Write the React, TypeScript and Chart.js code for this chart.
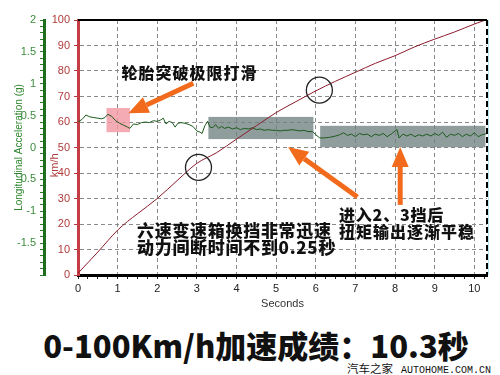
import React, { useEffect, useRef } from "react";
import { Chart, registerables } from "chart.js";

Chart.register(...registerables);

// ---- data ----
const speedTime = [0, 0.5, 1, 1.25, 1.5, 2, 2.5, 3, 3.5, 4, 4.5, 5, 5.5, 6, 6.5, 7, 7.5, 8, 8.5, 9, 9.5, 10, 10.28];
const speedKmh = [0.7, 9, 17.6, 21, 24, 30, 37, 43.8, 48, 53.3, 58.5, 63.7, 68, 72.2, 76, 79.5, 83, 86, 89.5, 92.5, 95.3, 98.4, 100];

const accTime = [
  0.0, 0.1, 0.2, 0.3, 0.4, 0.5, 0.6, 0.68, 0.75, 0.85, 0.95, 1.05, 1.15, 1.25, 1.31, 1.4, 1.5, 1.6, 1.7, 1.8,
  1.9, 2.0, 2.08, 2.15, 2.22, 2.3, 2.38, 2.45, 2.52, 2.6, 2.7, 2.8, 2.9, 3.0, 3.08, 3.13, 3.2, 3.27, 3.33, 3.4,
  3.47, 3.55, 3.62, 3.7, 3.8, 3.9, 4.0, 4.1, 4.2, 4.3, 4.4, 4.5, 4.6, 4.7, 4.8, 4.9, 5.0, 5.1, 5.2, 5.3,
  5.4, 5.5, 5.6, 5.7, 5.8, 5.92, 6.0, 6.1, 6.2, 6.35, 6.5, 6.6, 6.7, 6.8, 6.9, 7.0, 7.1, 7.2, 7.3, 7.4,
  7.5, 7.6, 7.7, 7.8, 7.9, 8.0, 8.05, 8.1, 8.2, 8.3, 8.4, 8.5, 8.6, 8.7, 8.8, 8.9, 9.0, 9.1, 9.2, 9.3,
  9.4, 9.5, 9.6, 9.7, 9.8, 9.9, 10.0, 10.1, 10.2, 10.32,
];
const accG = [
  0.4, 0.44, 0.51, 0.48, 0.47, 0.46, 0.45, 0.47, 0.52, 0.49, 0.42, 0.38, 0.35, 0.32, 0.3, 0.37, 0.36, 0.39, 0.4, 0.39,
  0.42, 0.41, 0.43, 0.46, 0.37, 0.41, 0.39, 0.32, 0.38, 0.39, 0.38, 0.36, 0.33, 0.26, 0.24, 0.22, 0.34, 0.41, 0.32, 0.31,
  0.36, 0.3, 0.33, 0.3, 0.32, 0.29, 0.31, 0.28, 0.3, 0.29, 0.31, 0.28, 0.29, 0.27, 0.28, 0.27, 0.27, 0.26, 0.27, 0.27,
  0.28, 0.27, 0.26, 0.27, 0.25, 0.25, 0.2, 0.15, 0.15, 0.16, 0.18, 0.2, 0.23, 0.19, 0.21, 0.17, 0.22, 0.2, 0.21, 0.17,
  0.21, 0.19, 0.22, 0.17, 0.21, 0.26, 0.28, 0.15, 0.21, 0.18, 0.21, 0.17, 0.2, 0.18, 0.21, 0.18, 0.22, 0.19, 0.24, 0.16,
  0.21, 0.19, 0.22, 0.17, 0.21, 0.18, 0.23, 0.17, 0.2, 0.22,
];

const xTickValues = [0, 1, 2, 3, 4, 5, 6, 7, 8, 9, 10];
const kmhTickValues = [0, 10, 20, 30, 40, 50, 60, 70, 80, 90, 100];
const gTickValues = [-2, -1.5, -1, -0.5, 0, 0.5, 1, 1.5, 2];

// ---- annotation config (data coordinates: seconds / km/h) ----
const highlightBoxes = [
  { t0: 0.72, t1: 1.31, v0: 56, v1: 65.5, color: "rgba(242,150,160,0.8)" },
  { t0: 3.29, t1: 5.94, v0: 53.3, v1: 62, color: "rgba(112,130,128,0.78)" },
  { t0: 6.11, t1: 10.28, v0: 50.1, v1: 58.5, color: "rgba(112,130,128,0.78)" },
];
const circleMarks = [
  { t: 3.04, v: 42.2 },
  { t: 6.09, v: 72.5 },
];
const arrowMarks = [
  { t0: 2.91, v0: 75.2, t1: 1.27, v1: 63.4 },
  { t0: 7.05, v0: 30.6, t1: 5.3, v1: 50.2 },
  { t0: 8.13, v0: 27.5, t1: 8.13, v1: 50.2 },
];

const TICK_FONT = { family: "'Liberation Sans', Arial, sans-serif", size: 11 };

function drawArrow(ctx: CanvasRenderingContext2D, x0: number, y0: number, x1: number, y1: number) {
  const color = "#f26a1b";
  const headLen = 20;
  const headW = 17;
  const ang = Math.atan2(y1 - y0, x1 - x0);
  const bx = x1 - headLen * Math.cos(ang);
  const by = y1 - headLen * Math.sin(ang);
  ctx.save();
  ctx.strokeStyle = color;
  ctx.lineWidth = 5;
  ctx.lineCap = "butt";
  ctx.beginPath();
  ctx.moveTo(x0, y0);
  ctx.lineTo(bx, by);
  ctx.stroke();
  ctx.fillStyle = color;
  ctx.beginPath();
  ctx.moveTo(x1, y1);
  ctx.lineTo(bx + (headW / 2) * Math.sin(ang), by - (headW / 2) * Math.cos(ang));
  ctx.lineTo(bx - (headW / 2) * Math.sin(ang), by + (headW / 2) * Math.cos(ang));
  ctx.closePath();
  ctx.fill();
  ctx.restore();
}

const annotatePlugin = {
  id: "annotate",
  beforeDatasetsDraw(chart: any) {
    const { ctx, scales } = chart;
    const x = scales.x;
    const y = scales.y;
    ctx.save();
    highlightBoxes.forEach((b) => {
      const px0 = x.getPixelForValue(b.t0);
      const px1 = x.getPixelForValue(b.t1);
      const py0 = y.getPixelForValue(b.v1);
      const py1 = y.getPixelForValue(b.v0);
      ctx.fillStyle = b.color;
      ctx.fillRect(px0, py0, px1 - px0, py1 - py0);
    });
    ctx.restore();
  },
  afterDatasetsDraw(chart: any) {
    const { ctx, scales } = chart;
    const x = scales.x;
    const y = scales.y;
    ctx.save();
    ctx.strokeStyle = "#222";
    ctx.lineWidth = 1.3;
    circleMarks.forEach((c) => {
      ctx.beginPath();
      ctx.arc(x.getPixelForValue(c.t), y.getPixelForValue(c.v), 13, 0, Math.PI * 2);
      ctx.stroke();
    });
    ctx.restore();
    arrowMarks.forEach((a) => {
      drawArrow(ctx, x.getPixelForValue(a.t0), y.getPixelForValue(a.v0), x.getPixelForValue(a.t1), y.getPixelForValue(a.v1));
    });
  },
  afterDraw(chart: any) {
    const { ctx, chartArea, scales } = chart;
    ctx.save();
    ctx.strokeStyle = "#000";
    ctx.lineWidth = 2;
    ctx.beginPath();
    ctx.moveTo(chartArea.left, chartArea.top);
    ctx.lineTo(chartArea.right, chartArea.top);
    ctx.stroke();
    ctx.setLineDash([6, 3]);
    ctx.beginPath();
    ctx.moveTo(chartArea.right, chartArea.top);
    ctx.lineTo(chartArea.right, chartArea.bottom);
    ctx.stroke();
    ctx.setLineDash([]);
    ctx.strokeStyle = "rgba(150,220,230,0.7)";
    ctx.lineWidth = 1;
    ctx.beginPath();
    ctx.moveTo(chartArea.right + 1.5, chartArea.top);
    ctx.lineTo(chartArea.right + 1.5, chartArea.bottom);
    ctx.stroke();
    const yScale = scales.y;
    ctx.translate(yScale.left + 11, chartArea.top + (chartArea.bottom - chartArea.top) * 0.57);
    ctx.rotate(-Math.PI / 2);
    ctx.fillStyle = "#b03a3a";
    ctx.font = "11px 'Liberation Sans', Arial, sans-serif";
    ctx.textAlign = "center";
    ctx.textBaseline = "middle";
    ctx.fillText("km/h", 0, 0);
    ctx.restore();
  },
};

export default function App() {
  const canvasRef = useRef<HTMLCanvasElement | null>(null);

  useEffect(() => {
    if (!canvasRef.current) return;
    const chart = new Chart(canvasRef.current, {
      type: "line",
      data: {
        datasets: [
          {
            label: "km/h",
            data: speedTime.map((t, i) => ({ x: t, y: speedKmh[i] })),
            borderColor: "#8a1c2c",
            borderWidth: 1,
            pointRadius: 0,
            cubicInterpolationMode: "monotone",
            xAxisID: "x",
            yAxisID: "y",
          },
          {
            label: "Longitudinal Acceleration (g)",
            data: accTime.map((t, i) => ({ x: t, y: accG[i] })),
            borderColor: "#1d5a1d",
            borderWidth: 1,
            pointRadius: 0,
            tension: 0,
            xAxisID: "x",
            yAxisID: "y1",
          },
        ],
      },
      options: {
        responsive: false,
        animation: false,
        layout: { padding: { top: 20, right: 13, left: 0, bottom: 0 } },
        plugins: { legend: { display: false }, tooltip: { enabled: false } },
        scales: {
          x: {
            type: "linear",
            position: "bottom",
            min: 0,
            max: 10.32,
            afterBuildTicks: (scale: any) => {
              const ticks: any[] = [];
              for (let i = 0; i <= 41; i++) ticks.push({ value: i * 0.25 });
              scale.ticks = ticks;
            },
            afterFit: (scale: any) => {
              scale.height = 45;
            },
            ticks: {
              autoSkip: false,
              maxRotation: 0,
              font: TICK_FONT,
              color: "#222",
              padding: 3,
              callback: (v: any) => (xTickValues.includes(Number(v)) ? String(v) : ""),
            },
            grid: {
              color: (c: any) => (c.tick && Number.isInteger(c.tick.value) && c.tick.value > 0 ? "#8a8a8a" : "rgba(0,0,0,0)"),
              lineWidth: 1,
              tickLength: 4,
              tickColor: "#222",
            },
            border: { display: true, color: "#000", width: 3, dash: [4, 3] },
            title: {
              display: true,
              text: "Seconds",
              color: "#333",
              font: TICK_FONT,
              padding: { top: 0, bottom: 9 },
            },
          },
          y: {
            type: "linear",
            position: "left",
            weight: 0,
            min: 0,
            max: 100,
            afterBuildTicks: (scale: any) => {
              scale.ticks = kmhTickValues.map((v) => ({ value: v }));
            },
            afterFit: (scale: any) => {
              scale.width = 34;
            },
            ticks: { font: TICK_FONT, color: "#b03a3a", padding: 4 },
            grid: {
              color: (c: any) => (c.tick && c.tick.value > 0 && c.tick.value < 100 ? "#8a8a8a" : "rgba(0,0,0,0)"),
              lineWidth: 1,
              tickLength: 4,
              tickColor: "#b03a3a",
            },
            border: { display: true, color: "#c43c44", width: 3, dash: [4, 3] },
          },
          y1: {
            type: "linear",
            position: "left",
            weight: 1,
            min: -2,
            max: 2,
            afterBuildTicks: (scale: any) => {
              const ticks: any[] = [];
              for (let i = -20; i <= 20; i++) ticks.push({ value: i / 10 });
              scale.ticks = ticks;
            },
            afterFit: (scale: any) => {
              scale.width = 44;
            },
            ticks: {
              autoSkip: false,
              font: TICK_FONT,
              color: "#3c8c3c",
              padding: 4,
              callback: (v: any) => {
                const n = Math.round(Number(v) * 10) / 10;
                return gTickValues.includes(n) && n !== -2 ? String(n) : "";
              },
            },
            grid: { drawOnChartArea: false, tickLength: 4, tickColor: "#2a7a2a" },
            border: { display: true, color: "#1e6e1e", width: 3 },
            title: {
              display: true,
              text: "Longitudinal Acceleration (g)",
              color: "#2f862f",
              font: { family: "'Liberation Sans', Arial, sans-serif", size: 10 },
              padding: { top: 13, bottom: 0 },
            },
          },
        },
      },
      plugins: [annotatePlugin],
    } as any);
    return () => chart.destroy();
  }, []);

  const cjk = "'Noto Sans CJK SC', 'Noto Sans', sans-serif";
  const note: React.CSSProperties = {
    position: "absolute",
    fontFamily: cjk,
    fontWeight: 900,
    color: "#111",
    whiteSpace: "nowrap",
    lineHeight: 1,
    transform: "translateY(-50%)",
  };

  return (
    <div style={{ position: "fixed", left: 0, top: 0, width: 500, height: 375, background: "#fff", overflow: "hidden" }}>
      <canvas ref={canvasRef} width={500} height={320} style={{ position: "absolute", left: 0, top: 0, width: 500, height: 320 }} />
      <div style={{ ...note, left: 189.5, top: 72, fontSize: 16, letterSpacing: 1, transform: "translate(-50%,-50%)" }}>轮胎突破极限打滑</div>
      <div style={{ ...note, left: 137, top: 229, fontSize: 17, letterSpacing: 0.7 }}>六速变速箱换挡非常迅速</div>
      <div style={{ ...note, left: 137, top: 246, fontSize: 17, letterSpacing: 0.7 }}>动力间断时间不到0.25秒</div>
      <div style={{ ...note, left: 339, top: 214, fontSize: 16, letterSpacing: 0.8 }}>进入2、3挡后</div>
      <div style={{ ...note, left: 339, top: 231, fontSize: 16, letterSpacing: 1 }}>扭矩输出逐渐平稳</div>
      <div style={{ ...note, left: 256, top: 344, fontSize: 31, transform: "translate(-50%,-50%)" }}>0-100Km/h加速成绩：10.3秒</div>
      <div
        style={{
          position: "absolute",
          left: 347,
          top: 368,
          transform: "translateY(-50%)",
          whiteSpace: "nowrap",
          lineHeight: 1,
          color: "#111",
        }}
      >
        <span style={{ fontFamily: cjk, fontSize: 11.5 }}>汽车之家</span>
        <span style={{ fontFamily: "'Liberation Mono', 'DejaVu Sans Mono', monospace", fontSize: 10, marginLeft: 8 }}>AUTOHOME.COM.CN</span>
      </div>
    </div>
  );
}
